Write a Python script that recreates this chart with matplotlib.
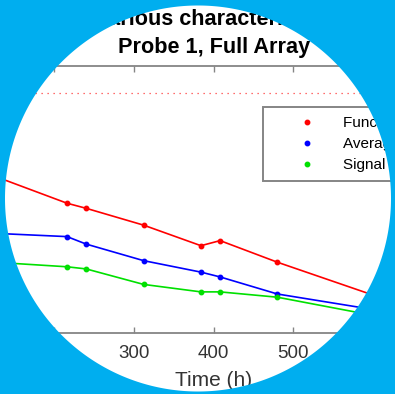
import matplotlib

matplotlib.use("Agg")

import matplotlib.pyplot as plt
import numpy as np
from matplotlib.patches import PathPatch
from matplotlib.path import Path

# hours since start
times = [120, 216, 240, 312, 384, 408, 480, 600]
functional = [59.3, 48.6, 46.7, 40.4, 32.7, 34.6, 26.5, 14.2]
average = [37.4, 36.1, 33.3, 27.1, 22.8, 21.0, 14.6, 8.8]
signal = [26.6, 24.8, 24.0, 18.2, 15.4, 15.4, 13.4, 6.6]
threshold = 90
labels = ["Functional pixels", "Average signal", "Signal to noise"]
x_ticks = [100, 200, 300, 400, 500, 600, 700]

W, H = 395, 394
BLUE = "#00AEEF"
GRAY = "#858585"
TEXT = "#333333"

plt.rcParams["font.family"] = ["Liberation Sans", "DejaVu Sans"]

fig = plt.figure(figsize=(W / 100, H / 100), dpi=100, facecolor="white")
# axes box in pixels: left, right, top, bottom
ax_l, ax_r, ax_t, ax_b = -25.4, 452.8, 66, 333
ax = fig.add_axes([ax_l / W, 1 - ax_b / H, (ax_r - ax_l) / W, (ax_b - ax_t) / H])

ax.axhline(threshold, color="#FF4040", lw=0.9, ls=(0, (1, 3.8)))
h1, = ax.plot(times, functional, color="red", lw=1.2, marker="o", ms=3.2)
h2, = ax.plot(times, average, color="blue", lw=1.2, marker="o", ms=3.2)
h3, = ax.plot(times, signal, color="#00E000", lw=1.2, marker="o", ms=3.2)

ax.set_xlim(100, 700)
ax.set_ylim(0, 100)
ax.set_xticks(x_ticks)
ax.set_yticks([])
for side in ("top", "bottom", "left", "right"):
    ax.spines[side].set_color(GRAY)
    ax.spines[side].set_linewidth(1.3)
ax.tick_params(axis="x", direction="in", top=True, length=4.5, width=1.0, color=GRAY,
               labelsize=13.5, labelcolor=TEXT, pad=9)
ax.set_xlabel("Time (h)", fontsize=15, color=TEXT, labelpad=6)
ax.set_title("Various characteristics\nProbe 1, Full Array", fontsize=15.6, fontweight="bold",
             linespacing=1.45, pad=9)

marker_handles = [
    plt.Line2D([], [], color=c, ls="none", marker="o", ms=3.2) for c in ("red", "blue", "#00E000")
]
leg = ax.legend(marker_handles, labels, loc="upper left",
                bbox_to_anchor=(263 / W, 1 - 106.7 / H), bbox_transform=fig.transFigure,
                fontsize=11, frameon=True, fancybox=False, framealpha=1, borderpad=0.6,
                handlelength=4.6, handletextpad=0.05, labelspacing=0.47, borderaxespad=0)
leg.get_frame().set_edgecolor(GRAY)
leg.get_frame().set_linewidth(1.4)

# blue surround with a round window
cx, cy, r = 198, H - 198.5, 193
theta = np.linspace(0, 2 * np.pi, 500)[::-1]
circle = np.column_stack([cx + r * np.cos(theta), cy + r * np.sin(theta)])
rect = np.array([[0, 0], [W, 0], [W, H], [0, H], [0, 0]])
verts = np.vstack([rect, circle])
codes = ([Path.MOVETO] + [Path.LINETO] * 3 + [Path.CLOSEPOLY]
         + [Path.MOVETO] + [Path.LINETO] * (len(circle) - 2) + [Path.CLOSEPOLY])
mask = PathPatch(Path(verts / [W, H], codes), transform=fig.transFigure,
                 facecolor=BLUE, edgecolor="none", zorder=10)
fig.add_artist(mask)

fig.savefig("out.png", dpi=100, facecolor=fig.get_facecolor())
